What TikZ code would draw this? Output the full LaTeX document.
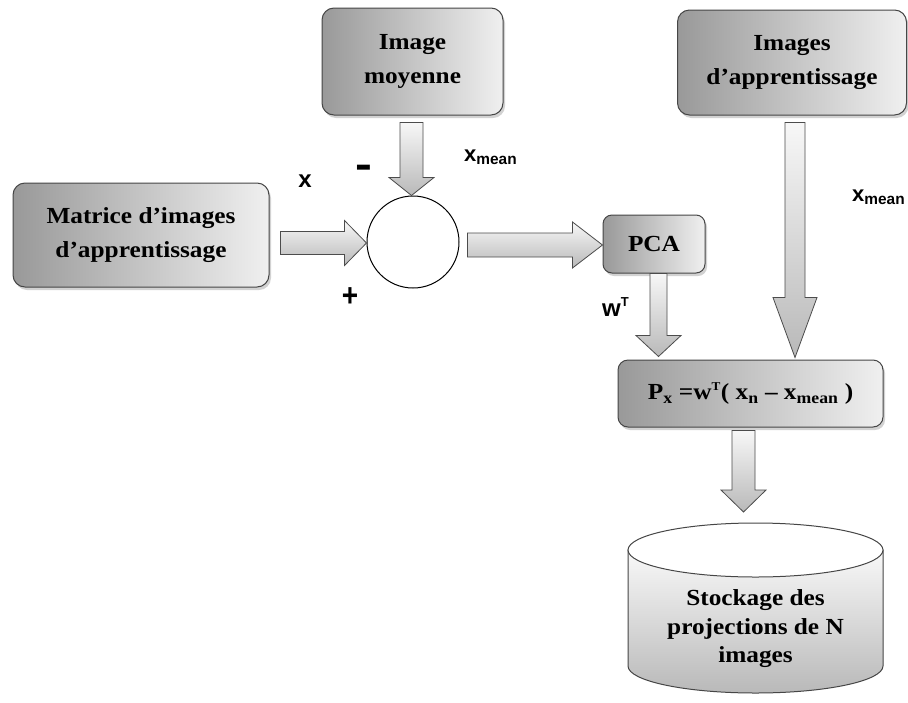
\documentclass[tikz,border=0pt]{standalone}
\usepackage{fontspec}
\usepackage{graphicx}
\setmainfont{Liberation Serif}[FakeStretch=1.1]
\setsansfont{Liberation Sans}
\usetikzlibrary{calc,shadows}

\newcommand{\boxfont}{\fontsize{23}{34}\selectfont\bfseries}
\newcommand{\lblfont}{\fontsize{22}{24}\selectfont\sffamily\bfseries}

\tikzset{
  x=1pt, y=-1pt,
  box/.style={rounded corners=12pt, draw=gray!55!black, line width=1pt,
    left color=gray!80, right color=gray!12,
    drop shadow={opacity=0.35, shadow xshift=2pt, shadow yshift=-3pt},
    align=center, font=\boxfont, text=black, inner sep=2pt},
  blk/.style={draw=gray!60!black, line width=0.8pt, top color=gray!6, bottom color=gray!55},
  lbl/.style={font=\lblfont, inner sep=0pt},
}

% vertical block arrow: start, tip, shaft half width, head half width, head length
\newcommand{\vblock}[5]{%
  \path[blk] let \p1=#1, \p2=#2 in
    (\x1-#3,\y1) -- (\x1+#3,\y1) -- (\x1+#3,\y2+#5) -- (\x1+#4,\y2+#5)
    -- (\x1,\y2) -- (\x1-#4,\y2+#5) -- (\x1-#3,\y2+#5) -- cycle;}
% horizontal block arrow: start, tip, shaft half width, head half width, head length
\newcommand{\hblock}[5]{%
  \path[blk] let \p1=#1, \p2=#2 in
    (\x1,\y2+#3) -- (\x2-#5,\y2+#3) -- (\x2-#5,\y2+#4) -- (\x2,\y2)
    -- (\x2-#5,\y2-#4) -- (\x2-#5,\y2-#3) -- (\x1,\y2-#3) -- cycle;}

\begin{document}
\begin{tikzpicture}
\useasboundingbox (0,0) rectangle (908,702);
\fill[white] (0,0) rectangle (908,702);

% boxes
\node[box, minimum width=181pt, minimum height=107pt] (mean) at (412.5,61.5) {Image\\moyenne};
\node[box, minimum width=256pt, minimum height=104pt] (mat) at (141,235) {Matrice d’images\\d’apprentissage};
\node[box, minimum width=229pt, minimum height=105pt] (imgs) at (792,62.5) {Images\\d’apprentissage};
\node[box, rounded corners=9pt, minimum width=102pt, minimum height=58pt] (pca) at (654,244) {PCA};
\node[box, rounded corners=10pt, minimum width=265pt, minimum height=67pt] (proj) at (750.5,393.5)
  {P\textsubscript{x} =w\textsuperscript{\fontsize{12}{12}\selectfont T}( x\textsubscript{n} – x\textsubscript{mean} )};

% summing junction
\node[circle, draw, line width=1pt, fill=white, minimum size=92pt, inner sep=0pt] (sum) at (413,242) {};

% storage cylinder
\path[draw=gray!55!black, line width=1pt, top color=gray!5, bottom color=gray!55]
  (628,550) -- (628,666) arc[start angle=180, end angle=360, x radius=127.5pt, y radius=27pt]
  -- (883,550) -- cycle;
\draw[gray!55!black, line width=1pt, fill=white] (755.5,550) ellipse [x radius=127.5pt, y radius=27pt];
\node[align=center, font=\fontsize{23}{28.5}\selectfont\bfseries] (store) at (755.5,629)
  {Stockage des\\projections de N\\images};
\coordinate (cyltop) at (742,523);

% arrow end points
\coordinate (a1s) at ($(mean.south)+(-1,7)$);
\coordinate (a1t) at (sum.north);
\coordinate (a2s) at ($(mat.east)+(11,0)$);
\coordinate (a2t) at ($(sum.west)+(0,1)$);
\coordinate (a3s) at ($(sum.east)+(8,0)$);
\coordinate (a3t) at ($(pca.west)+(0,1)$);
\coordinate (a4s) at ($(pca.south)+(4.5,0)$);
\coordinate (a4t) at ($(proj.north)+(0,-3)$);
\coordinate (a5s) at ($(imgs.south)+(3,7)$);
\coordinate (a5t) at ($(proj.north)+(0,-2)$);
\coordinate (a6s) at ($(proj.south)+(-7,3)$);
\coordinate (a6t) at ($(cyltop)+(0,-11)$);

\vblock{(a1s)}{(a1t)}{11.5pt}{22.5pt}{18pt}
\hblock{(a2s)}{(a2t)}{11.5pt}{22.5pt}{22pt}
\hblock{(a3s)}{(a3t)}{12pt}{23pt}{30pt}
\vblock{(a4s)}{(a4t)}{8.5pt}{22.5pt}{21pt}
\vblock{(a5s)}{(a5t)}{10pt}{22pt}{60pt}
\vblock{(a6s)}{(a6t)}{11.5pt}{22.5pt}{22pt}

% signal labels
\node[lbl, font=\fontsize{24}{26}\selectfont\sffamily\bfseries] (lx) at (305,181) {x};
\node[lbl] (lminus) at (363.5,171.5) {\scalebox{2.3}[1.9]{-}};
\node[lbl, font=\fontsize{28}{30}\selectfont\sffamily\bfseries] (lplus) at (350,297) {\scalebox{1}[1.15]{+}};
\node[lbl, anchor=base west] (lmean) at (464,161) {x\textsubscript{mean}};
\node[lbl, anchor=base west] (lmean2) at (852,201) {x\textsubscript{mean}};
\node[lbl, anchor=base west, font=\fontsize{24}{26}\selectfont\sffamily\bfseries] (lw) at (602,316) {w\textsuperscript{\fontsize{13}{14}\selectfont T}};
\end{tikzpicture}
\end{document}
